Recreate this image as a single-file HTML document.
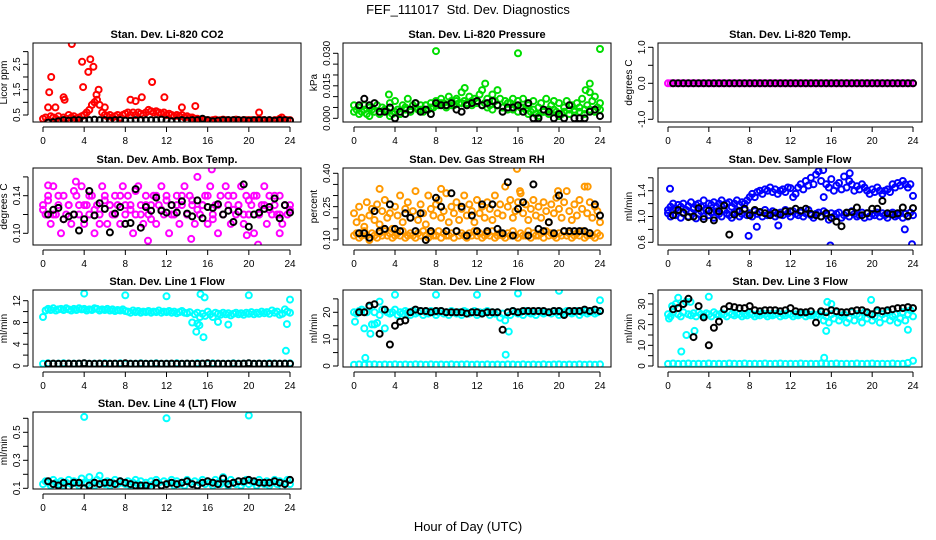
<!DOCTYPE html>
<html><head><meta charset="utf-8"><style>
body{margin:0;background:#fff}
svg{display:block;font-family:"Liberation Sans",sans-serif}
</style></head><body>
<svg id="chart" width="936" height="540" viewBox="0 0 936 540" xmlns="http://www.w3.org/2000/svg">
<rect width="936" height="540" fill="#fff"/>
<text x="468" y="14" font-size="13" text-anchor="middle" style="white-space:pre">FEF_111017  Std. Dev. Diagnostics</text>
<text x="468" y="531" font-size="13" text-anchor="middle">Hour of Day (UTC)</text>
</svg>
<script>
const xTicks=[0,4,8,12,16,20,24];
// CO2
const co2Band=[0.35,0.4,0.3,0.45,0.4,0.35,0.45,0.3,0.4,0.35,0.5,0.4,0.45,0.35,0.4,0.45,0.5,0.6,0.7,0.9,1.0,1.1,0.9,0.6,0.5,0.45,0.5,0.4,0.45,0.5,0.4,0.5,0.55,0.6,0.5,0.6,0.5,0.6,0.55,0.5,0.6,0.7,0.65,0.6,0.65,0.6,0.55,0.6,0.5,0.55,0.5,0.45,0.5,0.45,0.5,0.4,0.45,0.4,0.4,0.35,0.35,0.3,0.3,0.3,0.3,0.28,0.3,0.32,0.28,0.3,0.32,0.3,0.3,0.28,0.3,0.32,0.3,0.28,0.3,0.3,0.3,0.3,0.25,0.3,0.32,0.3,0.3,0.25,0.3,0.25,0.3,0.3,0.35,0.3,0.3,0.3,0.3];
const co2OutHours=[0.5,0.6,0.8,1.2,2.0,2.1,2.8,3.8,3.9,4.4,4.6,4.9,5.2,5.4,6.0,8.5,9.0,9.6,10.6,11.8,13.5,14.8,21.0,23.2];
const co2OutVals=[0.8,1.4,2.0,0.8,1.2,1.1,3.3,2.6,1.6,2.2,2.7,2.4,1.3,1.5,0.8,1.1,1.05,1.2,1.8,1.2,0.8,0.85,0.6,0.4];
const co2Black=[0.2,0.22,0.25,0.3,0.28,0.3,0.3,0.28,0.3,0.32,0.3,0.3,0.28,0.3,0.3,0.28,0.28,0.3,0.3,0.3,0.3,0.3,0.32,0.3,0.25,0.28,0.3,0.28,0.3,0.3,0.35,0.3,0.25,0.28,0.3,0.3,0.3,0.3,0.3,0.28,0.3,0.3,0.3,0.3,0.28,0.3,0.3,0.28];
// Pressure
const presBand=[0.006,0.004,0.005,0.003,0.006,0.002,0.005,0.004,0.003,0.006,0.002,0.005,0.004,0.003,0.007,0.002,0.008,0.004,0.002,0.006,0.005,0.009,0.003,0.006,0.007,0.004,0.006,0.003,0.006,0.004,0.007,0.005,0.008,0.006,0.009,0.007,0.006,0.01,0.008,0.006,0.009,0.007,0.012,0.008,0.007,0.01,0.006,0.009,0.008,0.011,0.013,0.007,0.009,0.006,0.011,0.008,0.006,0.009,0.005,0.008,0.004,0.007,0.009,0.006,0.008,0.005,0.009,0.004,0.006,0.003,0.008,0.002,0.005,0.007,0.003,0.009,0.004,0.006,0.008,0.003,0.007,0.002,0.005,0.008,0.004,0.006,0.003,0.007,0.005,0.009,0.004,0.006,0.012,0.008,0.01,0.005,0.007];
const presBand2=[0.003,0.002,0.004,0.001,0.003,0.002,0.004,0.001,0.003,0.002,0.004,0.003,0.005,0.004,0.006,0.005,0.006,0.007,0.005,0.006,0.008,0.007,0.006,0.008,0.007,0.006,0.005,0.004,0.006,0.005,0.007,0.004,0.003,0.005,0.002,0.004,0.001,0.003,0.002,0.004,0.001,0.003,0.002,0.004,0.003,0.002,0.004,0.003,0.004];
const presOutHours=[8,16,24,10.8,12.8,23,22.6,3.4,14];
const presOutVals=[0.031,0.030,0.032,0.014,0.016,0.016,0.013,0.011,0.013];
const presBlack=[0.006,0.009,0.006,0.007,0.003,0.003,0.005,0.0,0.003,0.002,0.004,0.007,0.003,0.004,0.002,0.007,0.006,0.006,0.007,0.004,0.003,0.006,0.007,0.008,0.006,0.007,0.008,0.006,0.003,0.005,0.005,0.006,0.003,0.007,0.0,0.0,0.004,0.003,0.0,0.002,0.0,0.006,0.0,0.0,0.0,0.003,0.004,0.001];
// Li-820 temp
const tempBand=[0,0,0,0,0,0,0,0,0,0,0,0,0,0,0,0,0,0,0,0,0,0,0,0,0,0,0,0,0,0,0,0,0,0,0,0,0,0,0,0,0,0,0,0,0,0,0,0,0,0,0,0,0,0,0,0,0,0,0,0,0,0,0,0,0,0,0,0,0,0,0,0,0,0,0,0,0,0,0,0,0,0,0,0,0,0,0,0,0,0,0,0,0,0,0,0,0];
const tempBlack=[0,0,0,0,0,0,0,0,0,0,0,0,0,0,0,0,0,0,0,0,0,0,0,0,0,0,0,0,0,0,0,0,0,0,0,0,0,0,0,0,0,0,0,0,0,0,0,0];
// Box temp
const boxBand=[0.13,0.12,0.14,0.11,0.15,0.12,0.13,0.10,0.14,0.12,0.13,0.11,0.12,0.14,0.13,0.15,0.11,0.13,0.12,0.14,0.10,0.13,0.12,0.15,0.14,0.11,0.13,0.12,0.14,0.13,0.11,0.15,0.12,0.14,0.13,0.10,0.12,0.15,0.13,0.11,0.14,0.12,0.13,0.14,0.11,0.13,0.15,0.12,0.14,0.10,0.13,0.12,0.14,0.11,0.13,0.15,0.12,0.14,0.13,0.11,0.16,0.12,0.13,0.14,0.11,0.15,0.12,0.13,0.10,0.14,0.12,0.15,0.13,0.11,0.14,0.12,0.13,0.15,0.11,0.14,0.12,0.13,0.10,0.14,0.12,0.13,0.15,0.11,0.14,0.12,0.13,0.12,0.14,0.11,0.13,0.12,0.13];
const boxBand2=[0.125,0.135,0.12,0.14,0.115,0.13,0.145,0.12,0.13,0.14,0.125,0.11,0.135,0.13,0.12,0.14,0.13,0.125,0.145,0.12,0.13,0.115,0.14,0.125,0.135,0.12,0.13,0.14,0.12,0.135,0.125,0.13,0.14,0.115,0.13,0.12,0.14,0.125,0.13,0.12,0.135,0.14,0.12,0.13,0.125,0.14,0.12,0.13,0.125];
const boxOutHours=[16.4,20.9,3.2,0.5,10.2,14.4,19.8,23.0];
const boxOutVals=[0.168,0.088,0.155,0.151,0.092,0.094,0.098,0.1];
const boxBlack=[0.12,0.125,0.127,0.115,0.118,0.12,0.103,0.115,0.145,0.119,0.132,0.126,0.101,0.121,0.128,0.11,0.111,0.147,0.106,0.128,0.124,0.138,0.124,0.122,0.13,0.122,0.134,0.121,0.118,0.135,0.116,0.128,0.127,0.131,0.12,0.124,0.112,0.123,0.152,0.107,0.12,0.122,0.126,0.128,0.137,0.116,0.13,0.122];
// RH
const rhBand=[0.12,0.13,0.11,0.12,0.14,0.12,0.10,0.13,0.12,0.11,0.13,0.12,0.14,0.12,0.13,0.11,0.12,0.13,0.12,0.14,0.11,0.12,0.13,0.12,0.11,0.13,0.12,0.14,0.12,0.11,0.13,0.12,0.12,0.14,0.11,0.13,0.12,0.12,0.13,0.11,0.14,0.12,0.13,0.12,0.11,0.13,0.12,0.14,0.12,0.13,0.11,0.12,0.13,0.12,0.14,0.11,0.12,0.13,0.12,0.11,0.13,0.12,0.14,0.12,0.11,0.13,0.12,0.12,0.14,0.11,0.13,0.12,0.12,0.13,0.11,0.14,0.12,0.13,0.12,0.11,0.13,0.12,0.14,0.12,0.13,0.11,0.12,0.13,0.12,0.14,0.11,0.12,0.13,0.12,0.11,0.13,0.12];
const rhBand2=[0.22,0.18,0.25,0.2,0.16,0.27,0.21,0.24,0.19,0.26,0.17,0.23,0.28,0.2,0.22,0.15,0.25,0.21,0.3,0.18,0.24,0.27,0.2,0.23,0.32,0.19,0.26,0.22,0.17,0.3,0.24,0.21,0.26,0.28,0.2,0.23,0.31,0.18,0.25,0.22,0.27,0.19,0.24,0.3,0.21,0.26,0.23,0.18,0.28,0.22,0.25,0.2,0.27,0.24,0.19,0.3,0.22,0.26,0.21,0.34,0.25,0.28,0.2,0.23,0.27,0.31,0.22,0.26,0.19,0.24,0.28,0.21,0.25,0.2,0.27,0.23,0.18,0.26,0.22,0.29,0.24,0.2,0.27,0.32,0.23,0.19,0.26,0.21,0.28,0.24,0.34,0.22,0.27,0.2,0.25,0.23,0.18];
const rhOutHours=[15.9,16.2,2.5,8.5,19.9,22.8];
const rhOutVals=[0.42,0.32,0.33,0.33,0.32,0.34];
const rhBlack=[0.13,0.13,0.11,0.23,0.14,0.15,0.26,0.15,0.14,0.22,0.20,0.14,0.22,0.10,0.14,0.29,0.25,0.14,0.31,0.14,0.25,0.12,0.21,0.14,0.26,0.14,0.26,0.15,0.13,0.36,0.12,0.24,0.27,0.12,0.35,0.15,0.14,0.18,0.13,0.30,0.14,0.14,0.14,0.14,0.14,0.13,0.26,0.21];
// Sample flow
const sfBand=[1.05,1.0,1.1,1.02,1.08,0.98,1.05,1.1,1.0,1.06,1.12,0.97,1.04,1.08,1.0,1.1,1.02,1.06,0.98,1.08,1.04,1.0,1.1,1.05,1.02,0.98,1.06,1.08,1.0,1.04,1.1,1.02,1.05,1.0,1.08,1.04,1.06,1.0,1.1,1.02,1.05,1.08,1.0,1.04,1.06,1.02,1.1,1.05,1.0,1.08,1.04,1.02,1.06,1.0,1.05,1.1,1.02,0.98,1.04,1.06,1.0,1.08,1.02,0.95,1.05,1.0,1.04,1.06,0.98,1.02,1.05,1.0,1.08,1.04,1.0,1.02,1.06,0.98,1.05,1.0,1.04,1.02,1.06,1.0,1.05,1.02,0.98,1.04,1.06,1.0,1.02,1.05,0.98,1.04,1.0,1.06,1.02];
const sfBand2=[1.1,1.15,1.2,1.12,1.18,1.15,1.2,1.1,1.16,1.22,1.14,1.18,1.2,1.15,1.25,1.12,1.2,1.18,1.22,1.15,1.2,1.25,1.18,1.2,1.22,1.15,1.2,1.25,1.18,1.22,1.2,1.25,1.3,1.35,1.3,1.38,1.4,1.35,1.42,1.4,1.45,1.38,1.42,1.35,1.4,1.42,1.38,1.45,1.44,1.3,1.35,1.45,1.5,1.42,1.55,1.48,1.6,1.5,1.65,1.7,1.55,1.3,1.5,1.45,1.58,1.4,1.48,1.52,1.42,1.62,1.45,1.55,1.5,1.4,1.47,1.42,1.5,1.45,1.4,1.35,1.42,1.38,1.45,1.4,1.35,1.4,1.42,1.38,1.5,1.45,1.52,1.48,1.55,1.5,1.45,1.5,1.32];
const sfOutHours=[0.2,7.9,8.7,10.8,15.9,23.2,23.9,15.2,17.8];
const sfOutVals=[1.43,0.7,0.84,0.86,0.55,0.8,0.57,1.72,1.67];
const sfBlack=[1.02,1.1,1.06,0.99,1.0,1.13,0.96,1.09,0.94,1.08,1.17,0.72,1.03,1.08,1.12,1.02,1.1,1.07,1.05,1.02,1.06,1.03,1.08,1.08,1.12,1.09,1.12,1.04,1.02,1.0,1.05,0.98,0.92,0.85,1.06,1.07,1.14,1.02,1.05,1.12,1.12,1.24,1.05,1.03,1.05,1.14,1.01,1.13];
// Line 1
const l1Band=[9,10.2,10.5,10.3,10.6,10.2,10.4,10.5,10.3,10.6,10.4,10.2,10.5,10.3,10.6,10.4,10.5,10.2,10.4,10.3,10.6,10.5,10.2,10.4,10.3,10.5,10.2,10.4,10.1,10.3,10.2,10.4,10.1,10.0,9.8,10.2,9.9,10.1,9.8,10.0,9.9,10.1,9.8,10.0,9.9,10.2,9.8,10.0,9.9,10.1,9.8,10.0,9.7,9.9,10.1,9.8,9.7,9.9,8.0,9.5,9.8,9.0,9.6,9.2,10.0,9.5,9.0,9.8,9.6,9.4,9.8,9.5,9.7,9.3,9.6,9.8,9.5,9.7,9.4,9.8,9.6,9.9,9.5,9.8,9.6,10.0,9.7,9.9,9.6,10.2,9.8,10.0,9.4,9.6,10.4,10.0,9.8];
const l1Band2=[0.4,0.5,0.4,0.45,0.5,0.4,0.45,0.4,0.5,0.4,0.45,0.4,0.5,0.45,0.4,0.5,0.4,0.45,0.4,0.5,0.4,0.45,0.5,0.4,0.45,0.4,0.5,0.4,0.45,0.4,0.5,0.45,0.4,0.5,0.4,0.45,0.4,0.5,0.4,0.45,0.5,0.4,0.45,0.4,0.5,0.4,0.45,0.4,0.5];
const l1OutHours=[4,8,12,15.3,15.7,20,24,14.9,15.0,15.6,23.7,23.6,15.2,18,17];
const l1OutVals=[13.3,13,12.8,13.2,12.6,13,12.2,6.3,7.8,5.3,7.7,2.8,7.5,7.6,8.1];
const l1Black=[0.4,0.45,0.4,0.4,0.45,0.4,0.45,0.5,0.4,0.4,0.45,0.4,0.4,0.45,0.4,0.5,0.4,0.4,0.45,0.4,0.4,0.45,0.4,0.4,0.45,0.4,0.4,0.45,0.4,0.4,0.45,0.5,0.4,0.45,0.4,0.4,0.45,0.4,0.45,0.5,0.4,0.45,0.4,0.4,0.45,0.4,0.45,0.4];
// Line 2
const l2Band=[20,19.5,20.5,21,14,20,22,15.5,20,16,19,21,14,20,19.5,20,21,19,20,19.5,20.5,20,19,20.5,19.5,20,20.5,19,20,19.5,20.5,20,19,20,20.5,19.5,20,19,20.5,20,19.5,20,19,20.5,20,19.5,20,20.5,19,20,19.5,20,20.5,19,20,19.5,20,18,19.5,17,20,19,20.5,20,19.5,20,19,20.5,20,19.5,20,19,20.5,20,19.5,20,20,19.5,20.5,20,19,20,19.5,20.5,20,19.5,20,20.5,19,20,20.5,19.5,20,20.5,19.5,20,20.5];
const l2Band2=[0.5,0.6,0.5,0.55,0.6,0.5,0.55,0.5,0.6,0.5,0.55,0.5,0.6,0.55,0.5,0.6,0.5,0.55,0.5,0.6,0.5,0.55,0.6,0.5,0.55,0.5,0.6,0.5,0.55,0.5,0.6,0.55,0.5,0.6,0.5,0.55,0.5,0.6,0.5,0.55,0.6,0.5,0.55,0.5,0.6,0.5,0.55,0.5,0.6];
const l2OutHours=[0.1,1.1,1.6,2,2.5,4,8,12,16,20,24,14.8,15.1];
const l2OutVals=[16.5,3,12,15.5,24,26.5,26.5,26.5,27,28,24.5,4.2,12.8];
const l2Black=[20,20,22.5,23,12,21,8,15,16.5,17,20,21,20.5,20.5,20,20.5,20.5,20,20,20,20,19.5,20,20,19.5,20,20,20,13.5,20,20.5,20,20.5,20.5,20.5,20.5,20.5,20,20.5,20.5,19,20.5,20.5,20.5,21,20.5,21,20.5];
// Line 3
const l3Band=[25,24,26,30,25,24,26,31,25,24.5,25.5,24,26,25,24.5,25.5,25,24,26,25,24.5,25.5,25,24,26,25,24.5,25.5,25,24,25,24.5,25.5,25,24,25,24.5,25.5,25,24,25,24.5,25,25.5,24,25,24.5,25.5,25,24,25,24.5,25,25.5,24,25,24.5,25,24,25,26,22,24,21,25,23,26,22,24,25,21,23,26,22,25,24,21,26,23,25,22,24,26,21,25,23,26,22,24,25,21,23,26,22,25,27,24];
const l3Band2=[1,1.2,1,1.1,1.2,1,1.1,1,1.2,1,1.1,1,1.2,1.1,1,1.2,1,1.1,1,1.2,1,1.1,1.2,1,1.1,1,1.2,1,1.1,1,1.2,1.1,1,1.2,1,1.1,1,1.2,1,1.1,1.2,1,1.1,1,1.2,1,1.1,1.5,2.5];
const l3OutHours=[0.1,0.4,1,1.3,1.8,2.2,2.6,4,15.3,15.5,15.6,16,19.9,23.5];
const l3OutVals=[23,29,33,7,15,31,17,33.5,4,17,31,30,32,17.5];
const l3Black=[27.5,28,30,32.5,14,29,23.5,10,18.5,21.5,27.5,29,28.5,28,28,29,27,26.5,27,27,27,26.5,27,28,26.5,26,26,26.5,21,26.5,26,27,26.5,26,26,26.5,27,27,26,25,27,26.5,27,27.5,28,28,28.5,28];
// Line 4
const l4Band=[0.13,0.15,0.14,0.12,0.16,0.14,0.13,0.15,0.12,0.14,0.16,0.13,0.15,0.14,0.12,0.17,0.14,0.13,0.18,0.14,0.12,0.16,0.19,0.14,0.13,0.15,0.12,0.14,0.16,0.13,0.15,0.14,0.13,0.15,0.12,0.14,0.16,0.13,0.15,0.11,0.14,0.12,0.15,0.13,0.16,0.14,0.12,0.15,0.13,0.14,0.16,0.12,0.15,0.13,0.14,0.12,0.16,0.14,0.13,0.15,0.12,0.14,0.16,0.13,0.15,0.14,0.12,0.16,0.14,0.13,0.18,0.14,0.12,0.16,0.14,0.13,0.15,0.12,0.14,0.16,0.13,0.15,0.14,0.12,0.16,0.14,0.13,0.15,0.12,0.14,0.16,0.13,0.15,0.11,0.14,0.16,0.13];
const l4OutHours=[4,12,20];
const l4OutVals=[0.61,0.60,0.62];
const l4Black=[0.15,0.13,0.12,0.14,0.11,0.14,0.14,0.10,0.12,0.14,0.13,0.14,0.14,0.13,0.15,0.14,0.13,0.12,0.12,0.12,0.11,0.14,0.12,0.13,0.14,0.13,0.14,0.15,0.13,0.12,0.14,0.15,0.14,0.13,0.17,0.13,0.14,0.15,0.15,0.16,0.15,0.14,0.14,0.14,0.15,0.14,0.13,0.16];

const NS="http://www.w3.org/2000/svg";
const svg=document.getElementById('chart');
function mk(tag,attrs,parent){const e=document.createElementNS(NS,tag);for(const k in attrs)e.setAttribute(k,attrs[k]);(parent||svg).appendChild(e);return e;}
const cols=[{l:33,r:301,x0:43,x24:290},{l:343,r:611,x0:354,x24:600},{l:658,r:922,x0:668,x24:913}];
const rows=[{t:43,b:122},{t:168,b:245},{t:290,b:367},{t:412,b:489}];
const panels=[
 {name:'co2',title:'Stan. Dev. Li-820 CO2',ylab:'Licor ppm',c:0,r:0,cal:[0.5,115,2.5,64.3],ticks:[0.5,1,1.5,2,2.5,3],labels:['0.5','','1.5','','2.5',''],color:'#ff0000',bands:[co2Band],oh:co2OutHours,ov:co2OutVals,black:co2Black},
 {name:'pressure',title:'Stan. Dev. Li-820 Pressure',ylab:'kPa',c:1,r:0,cal:[0,118.3,0.03,53.3],ticks:[0,0.005,0.01,0.015,0.02,0.025,0.03],labels:['0.000','','','0.015','','','0.030'],color:'#00dd00',bands:[presBand,presBand2],oh:presOutHours,ov:presOutVals,black:presBlack},
 {name:'li820-temp',title:'Stan. Dev. Li-820 Temp.',ylab:'degrees C',c:2,r:0,cal:[0,83.3,1,47.3],ticks:[-1,-0.5,0,0.5,1],labels:['-1.0','','0.0','','1.0'],color:'#ff00ff',bands:[tempBand],oh:[],ov:[],black:tempBlack},
 {name:'box-temp',title:'Stan. Dev. Amb. Box Temp.',ylab:'degrees C',c:0,r:1,cal:[0.10,233.3,0.14,195.7],ticks:[0.10,0.12,0.14,0.16],labels:['0.10','','0.14',''],color:'#ff00ff',bands:[boxBand,boxBand2],oh:boxOutHours,ov:boxOutVals,black:boxBlack},
 {name:'gas-rh',title:'Stan. Dev. Gas Stream RH',ylab:'percent',c:1,r:1,cal:[0.10,240,0.40,173.3],ticks:[0.10,0.15,0.2,0.25,0.3,0.35,0.40],labels:['0.10','','','0.25','','','0.40'],color:'#ff9900',bands:[rhBand,rhBand2],oh:rhOutHours,ov:rhOutVals,black:rhBlack},
 {name:'sample-flow',title:'Stan. Dev. Sample Flow',ylab:'ml/min',c:2,r:1,cal:[0.6,242.3,1.4,190.7],ticks:[0.6,0.8,1.0,1.2,1.4,1.6],labels:['0.6','','1.0','','1.4',''],color:'#0000ff',bands:[sfBand,sfBand2],oh:sfOutHours,ov:sfOutVals,black:sfBlack},
 {name:'line1-flow',title:'Stan. Dev. Line 1 Flow',ylab:'ml/min',c:0,r:2,cal:[0,366,12,300.7],ticks:[0,2,4,6,8,10,12],labels:['0','','4','','8','','12'],color:'#00ffff',bands:[l1Band,l1Band2],oh:l1OutHours,ov:l1OutVals,black:l1Black},
 {name:'line2-flow',title:'Stan. Dev. Line 2 Flow',ylab:'ml/min',c:1,r:2,cal:[0,366,20,312.3],ticks:[0,5,10,15,20,25],labels:['0','','10','','20',''],color:'#00ffff',bands:[l2Band,l2Band2],oh:l2OutHours,ov:l2OutVals,black:l2Black},
 {name:'line3-flow',title:'Stan. Dev. Line 3 Flow',ylab:'ml/min',c:2,r:2,cal:[0,366,30,304],ticks:[0,5,10,15,20,25,30,35],labels:['0','','10','','20','','30',''],color:'#00ffff',bands:[l3Band,l3Band2],oh:l3OutHours,ov:l3OutVals,black:l3Black},
 {name:'line4-flow',title:'Stan. Dev. Line 4 (LT) Flow',ylab:'ml/min',c:0,r:3,cal:[0.1,488.3,0.5,432.3],ticks:[0.1,0.2,0.3,0.4,0.5,0.6],labels:['0.1','','0.3','','0.5',''],color:'#00ffff',bands:[l4Band],oh:l4OutHours,ov:l4OutVals,black:l4Black}
];
panels.forEach(p=>{
 const C=cols[p.c],R=rows[p.r];
 const sx=h=>C.x0+(C.x24-C.x0)*h/24;
 const sy=v=>p.cal[1]+(v-p.cal[0])*(p.cal[3]-p.cal[1])/(p.cal[2]-p.cal[0]);
 const g=mk('g',{});
 
 
 const t=mk('text',{x:(C.l+C.r)/2,y:R.t-5,'font-size':11,'font-weight':'bold','text-anchor':'middle'},g);t.textContent=p.title;
 
 
 const clip=mk('clipPath',{id:'cp'+p.name},g);mk('rect',{x:C.l,y:R.t,width:C.r-C.l,height:R.b-R.t},clip);
 const pts=mk('g',{'clip-path':'url(#cp'+p.name+')',fill:'none','stroke-width':2},g);
 
 
 const dot=(h,v,col)=>{const c=mk('circle',{cx:sx(h).toFixed(1),cy:sy(v).toFixed(1),r:3,stroke:col},pts);
  
  };
 p.bands.forEach(b=>b.forEach((v,i)=>dot(24*i/(b.length-1),v,p.color)));
 p.oh.forEach((h,i)=>dot(h,p.ov[i],p.color));
 p.black.forEach((v,i)=>dot(0.5+0.5*i,v,'#000'));
 const box=mk('rect',{x:C.l,y:R.t,width:C.r-C.l,height:R.b-R.t,fill:'none',stroke:'#000','stroke-width':1},g);
 
 
 const xa=mk('g',{stroke:'#000','stroke-width':1},g);
 
 
 mk('line',{x1:sx(0),x2:sx(24),y1:R.b+5,y2:R.b+5},xa);
 xTicks.forEach(h=>{mk('line',{x1:sx(h),x2:sx(h),y1:R.b+5,y2:R.b+10},xa);
  const tl=mk('text',{x:sx(h),y:R.b+22,'font-size':10,'text-anchor':'middle',stroke:'none'},xa);tl.textContent=h;});
 const ya=mk('g',{stroke:'#000','stroke-width':1},g);
 
 
 const yt=p.ticks.filter(v=>sy(v)>=R.t-1&&sy(v)<=R.b+1);
 mk('line',{x1:C.l-5,x2:C.l-5,y1:sy(yt[0]),y2:sy(yt[yt.length-1])},ya);
 p.ticks.forEach((v,i)=>{const y=sy(v);if(y<R.t-1||y>R.b+1)return;
  mk('line',{x1:C.l-5,x2:C.l-10,y1:y,y2:y},ya);
  if(p.labels[i]){const tl=mk('text',{x:C.l-13,y:y,'font-size':10,'text-anchor':'middle',stroke:'none',transform:`rotate(-90 ${C.l-13} ${y})`},ya);tl.textContent=p.labels[i];}});
 const yl=mk('text',{x:C.l-26,y:(R.t+R.b)/2,'font-size':10,'text-anchor':'middle',transform:`rotate(-90 ${C.l-26} ${(R.t+R.b)/2})`},g);yl.textContent=p.ylab;
 
 
});
</script>
</body></html>
